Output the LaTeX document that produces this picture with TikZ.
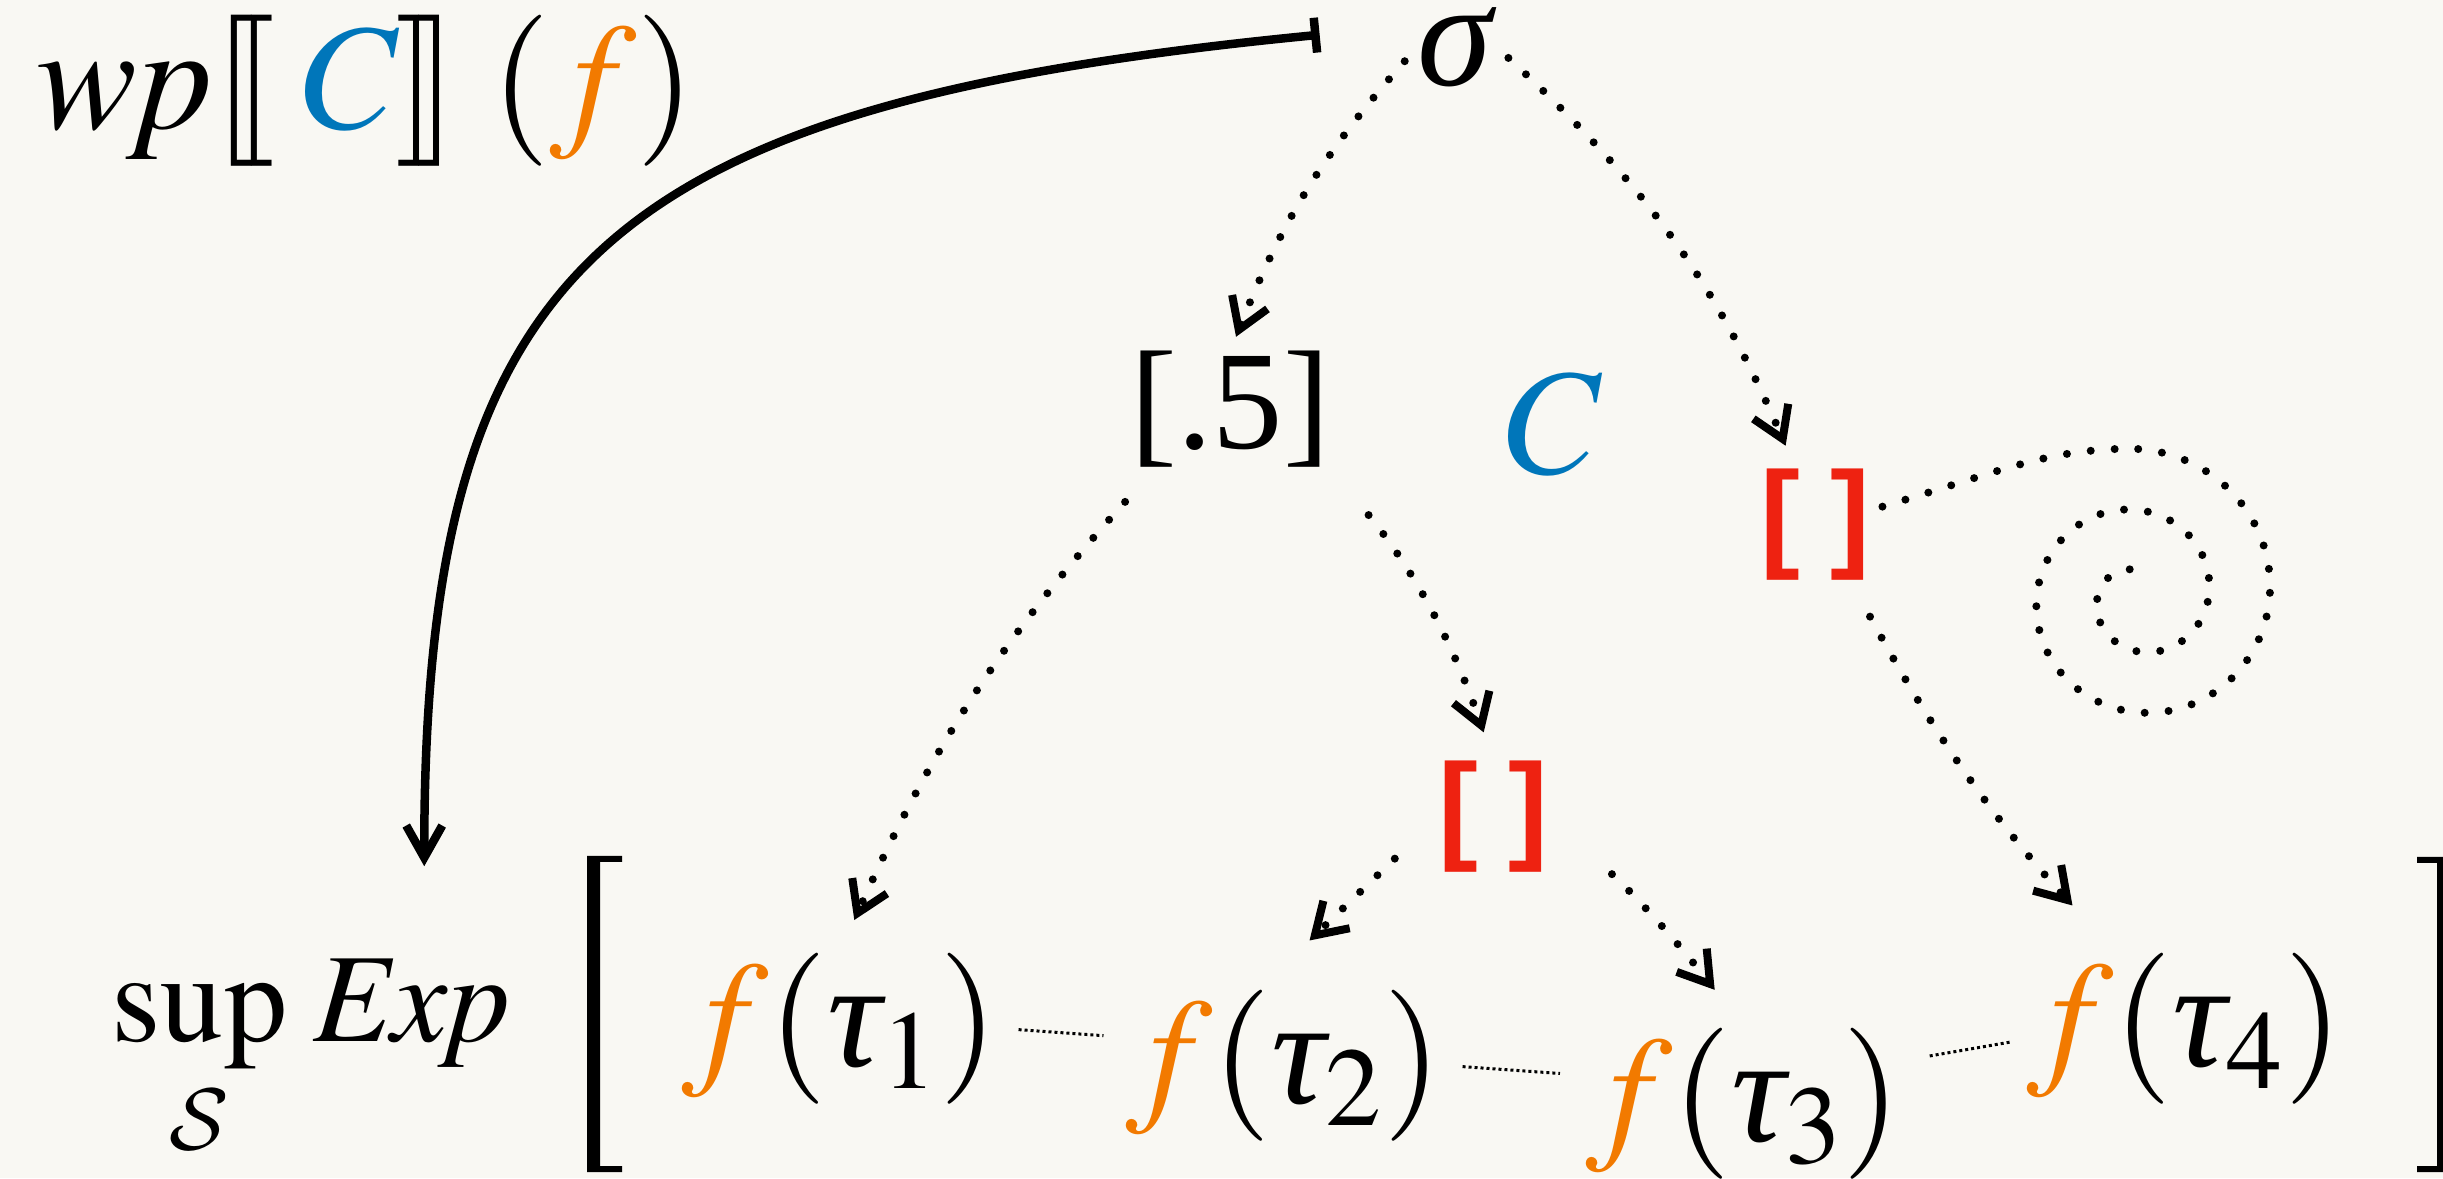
\documentclass[tikz,border=0pt]{standalone}
\usepackage{mathptmx}
\usepackage{fontspec}
\setmainfont{Liberation Serif}
\newfontfamily\bracketfont{Liberation Sans}
\usepackage{xcolor}
\usetikzlibrary{positioning, arrows.meta}
\DeclareMathAlphabet{\mathcm}{OMS}{cmsy}{m}{n}

\definecolor{paper}{HTML}{F9F8F3}
\definecolor{progblue}{HTML}{0076BA}
\definecolor{postorange}{HTML}{F27A00}
\definecolor{choicered}{HTML}{EE2211}

\begin{document}
\begin{tikzpicture}[
  big/.style={inner sep=0, font=\fontsize{43}{50}\selectfont},
  mid/.style={inner sep=0, font=\fontsize{36}{42}\selectfont},
  prob/.style={inner sep=0, font=\fontsize{40}{46}\selectfont},
  nd/.style={inner sep=0, text=choicered, font=\bracketfont\bfseries\fontsize{34}{40}\selectfont},
  tree/.style={line width=0.8mm, line cap=round, dash pattern=on 0pt off 2.4mm},
  treearr/.style={tree, -{Straight Barb[length=3mm, width=3.8mm]}},
  maps/.style={line width=0.85mm, {Bar[width=3.5mm]}-{Straight Barb[length=3.2mm, width=3.6mm]}},
  link/.style={line width=0.3mm, dash pattern=on 0.3mm off 0.3mm}
]
\fill[paper] (0,0) rectangle (24.43,11.78);
\useasboundingbox (0,0) rectangle (24.43,11.78);

% transformer and initial state
\node[big, anchor=west] (wp) at (0.36,10.87)
  {$\mathit{wp}\mathopen{[\mkern-2.5mu[}\mkern3.2mu\textcolor{progblue}{C}\mkern-0.5mu\mathclose{]\mkern-2.5mu]}\mkern4mu(\textcolor{postorange}{f})$};
\node[big, anchor=base] (sigma) at (14.57,10.92) {\textit{σ}};

% computation tree of C
\node[prob, anchor=base] (half) at (12.305,7.29) {[.5]};
\node[big, anchor=base, text=progblue] (prog) at (15.54,7.04) {$C$};
\node[nd, anchor=base] (rr) at (18.155,6.22) {[\hspace{0.25em}]};
\node[nd, anchor=base] (mr) at (14.935,3.30) {[\hspace{0.25em}]};

% expectation over final states
\node[mid, anchor=base west] (sup) at (1.11,1.37) {$\displaystyle\sup_{\mathcm{S}}$};
\node[mid, base right=2.5mm of sup] (exp) {$\mathit{Exp}$};
\node[big, anchor=base] (t1) at (8.40,1.12) {$\textcolor{postorange}{f}(\textit{τ}_1)$};
\node[big, anchor=base] (t2) at (12.84,0.75) {$\textcolor{postorange}{f}(\textit{τ}_2)$};
\node[big, anchor=base] (t3) at (17.435,0.37) {$\textcolor{postorange}{f}(\textit{τ}_3)$};
\node[big, anchor=base] (t4) at (21.85,1.12) {$\textcolor{postorange}{f}(\textit{τ}_4)$};

% big brackets
\fill (5.87,3.22) -- (6.22,3.22) -- (6.22,3.16) -- (6.00,3.16) -- (6.00,0.12)
  -- (6.22,0.12) -- (6.22,0.06) -- (5.87,0.06) -- cycle;
\fill (24.50,3.21) -- (24.17,3.21) -- (24.17,3.15) -- (24.37,3.15) -- (24.37,0.12)
  -- (24.17,0.12) -- (24.17,0.06) -- (24.50,0.06) -- cycle;

\draw[maps] ([shift={(-0.97,0.13)}]sigma.west) .. controls +(-7.2,-0.7) and +(0,6.0) .. ([shift={(0.12,0.91)}]exp.north);

\draw[treearr, shorten <=1.8mm, shorten >=1.5mm] (sigma.west) to[bend right=10] (half.north);
\draw[treearr, shorten <=1.5mm, shorten >=2.5mm] (sigma.east) to[bend left=12] ([xshift=-2mm]rr.north);
\draw[treearr, shorten <=4.5mm, shorten >=3.5mm] ([xshift=2.5mm]half.south west) to[bend right=9] (t1.north);
\draw[treearr, shorten <=6mm, shorten >=3mm] (half.south east) to[bend left=10] (mr.north);
\draw[treearr, shorten <=6mm, shorten >=7mm] (mr.west) -- ([xshift=-2.5mm]t2.north);
\draw[treearr, shorten <=8.5mm, shorten >=4.7mm] (mr.east) to[bend left=5] (t3.north);
\draw[treearr, shorten <=4mm, shorten >=6.3mm] ([xshift=-2mm]rr.south east) to[bend right=7] ([xshift=-7mm]t4.north);

% diverging branch
\draw[tree, shorten <=1.2mm] ([yshift=1.5mm]rr.east) .. controls +(1.4,0.42) and +(-0.9,0) .. (21.38,7.294)
  -- plot[domain=810:60, samples=160, smooth] ({21.38+(0.25+0.0017*(\x-90))*cos(\x)}, {5.82+(0.25+0.0017*(\x-90))*sin(\x)});

\draw[link, shorten <=2mm, shorten >=2.2mm] (t1.east) -- (t2.170);
\draw[link, shorten <=2mm, shorten >=2.5mm] (t2.east) -- (t3.170);
\draw[link, shorten <=2.8mm, shorten >=1.6mm] (t3.15) -- (t4.184);
\end{tikzpicture}
\end{document}
